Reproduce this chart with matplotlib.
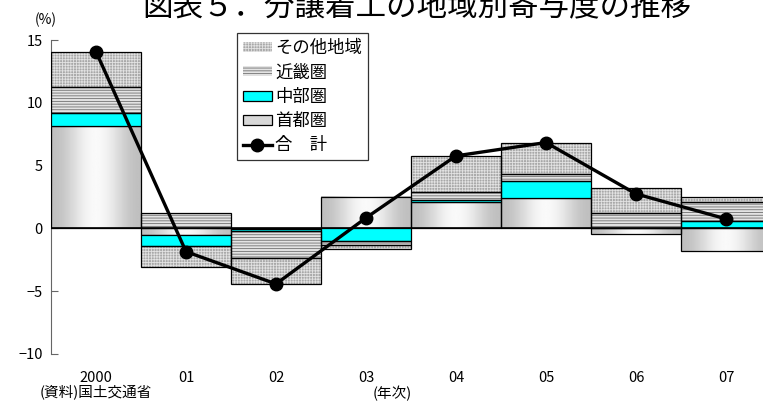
import numpy as np
import matplotlib
matplotlib.use("Agg")
import matplotlib.pyplot as plt
from matplotlib.patches import Patch
from matplotlib.lines import Line2D

plt.rcParams['font.family'] = ['Noto Sans CJK JP', 'DejaVu Sans']
plt.rcParams['hatch.linewidth'] = 0.6

# data (% contribution)
years = ["2000", "01", "02", "03", "04", "05", "06", "07"]
shutoken = [8.17, -0.50, -0.05, 2.48, 2.09, 2.45, -0.45, -1.80]
chubu = [1.00, -0.87, -0.13, -1.00, 0.21, 1.33, 0.05, 0.60]
kinki = [2.07, 1.20, -2.20, -0.30, 0.60, 0.54, 1.15, 1.48]
sonota = [2.83, -1.70, -2.02, -0.33, 2.88, 2.52, 2.00, 0.45]
total = [14.08, -1.85, -4.42, 0.84, 5.78, 6.84, 2.75, 0.76]

fig = plt.figure(figsize=(7.63, 4.05), dpi=100)
ax = fig.add_axes([51 / 763, 0.126, 720 / 763, 0.775])

x = np.arange(len(years))
pos_base = np.zeros(len(years))
neg_base = np.zeros(len(years))


def stack(vals):
    vals = np.array(vals)
    bottoms = np.where(vals >= 0, pos_base, neg_base)
    pos_base[:] += np.where(vals >= 0, vals, 0)
    neg_base[:] += np.where(vals < 0, vals, 0)
    return vals, bottoms


# 首都圏: gray gradient
vals, bot = stack(shutoken)
grad = np.cos(np.linspace(-np.pi, np.pi, 64)) * 0.5 + 0.5
grad = np.tile(grad, (2, 1))
for xi, v, b in zip(x, vals, bot):
    ax.imshow(grad, cmap="gray", vmin=-3.3, vmax=1.1, aspect="auto",
              extent=(xi - 0.5, xi + 0.5, b, b + v), zorder=2, interpolation="bilinear")
ax.bar(x, vals, bottom=bot, width=1.0, facecolor="none", edgecolor="black", linewidth=0.9, zorder=3)

# 中部圏: cyan
vals, bot = stack(chubu)
ax.bar(x, vals, bottom=bot, width=1.0, color="#00ffff", edgecolor="black", linewidth=0.9, zorder=3)

# 近畿圏: horizontal lines
vals, bot = stack(kinki)
ax.bar(x, vals, bottom=bot, width=1.0, facecolor="#e4e4e4", edgecolor="#707070",
       hatch="------", linewidth=0, zorder=2)
ax.bar(x, vals, bottom=bot, width=1.0, facecolor="none", edgecolor="black", linewidth=0.9, zorder=3)

# その他地域: fine grid
vals, bot = stack(sonota)
ax.bar(x, vals, bottom=bot, width=1.0, facecolor="#a8a8a8", edgecolor="#e2e2e2",
       hatch="++++++", linewidth=0, zorder=2)
ax.bar(x, vals, bottom=bot, width=1.0, facecolor="none", edgecolor="black", linewidth=0.9, zorder=3)

ax.axhline(0, color="black", linewidth=1.2, zorder=4)
ax.plot(x, total, color="black", linewidth=2.4, marker="o", markersize=9, zorder=5)

ax.set_xlim(-0.5, len(years) - 0.5)
ax.set_ylim(-10, 15)
ax.set_yticks([-10, -5, 0, 5, 10, 15])
ax.set_yticklabels(["\u221210", "\u22125", "0", "5", "10", "15"])
ax.set_xticks(x)
ax.set_xticklabels(years)
for s in ["top", "right", "bottom"]:
    ax.spines[s].set_visible(False)
ax.spines["left"].set_color("#666666")
ax.tick_params(axis="y", direction="in", length=5, color="#666666", labelsize=10.5, pad=6)
ax.tick_params(axis="x", length=0, labelsize=10.5, pad=12)

handles = [
    Patch(facecolor="#a8a8a8", edgecolor="#e2e2e2", hatch="++++++", linewidth=0),
    Patch(facecolor="#e4e4e4", edgecolor="#707070", hatch="------", linewidth=0),
    Patch(facecolor="#00ffff", edgecolor="black", linewidth=0.9),
    Patch(facecolor="#d8d8d8", edgecolor="black", linewidth=0.9),
    Line2D([], [], color="black", linewidth=2.4, marker="o", markersize=9),
]
labels = ["その他地域", "近畿圏", "中部圏", "首都圏", "合　計"]
leg = ax.legend(handles, labels, loc="upper left", bbox_to_anchor=(186 / 720, 1.022),
                prop={"size": 12.5}, frameon=True, fancybox=False, edgecolor="black",
                handlelength=1.65, handleheight=0.5, handletextpad=0.2,
                labelspacing=0.36, borderpad=0.35, borderaxespad=0)
leg.get_frame().set_linewidth(0.9)

fig.text(0.546, 0.982, "図表５．分譲着工の地域別寄与度の推移", fontsize=22,
         ha="center", va="center")
fig.text(46 / 763, 1 - 20 / 405, "(%)", fontsize=10, ha="center", va="center")
fig.text(40 / 763, 1 - 393 / 405, "(資料)国土交通省", fontsize=10.5, ha="left", va="center")
fig.text(392 / 763, 1 - 393 / 405, "(年次)", fontsize=10.5, ha="center", va="center")

fig.savefig("out.png", dpi=100)
plt.close(fig)
